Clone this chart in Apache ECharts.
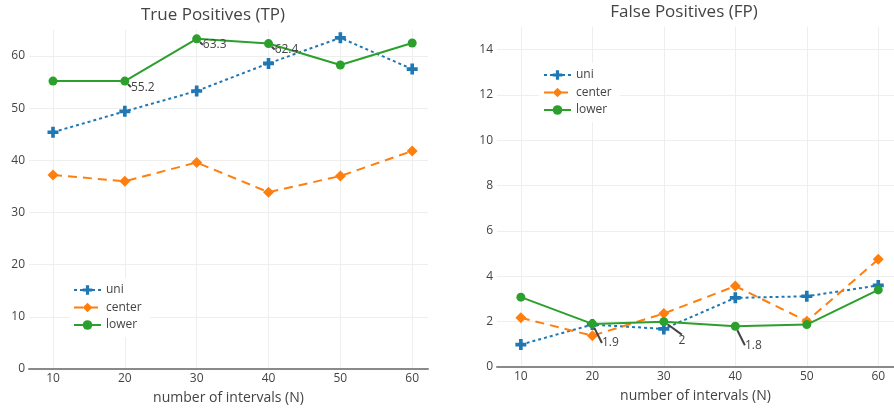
<!DOCTYPE html>
<html>
<head>
<meta charset="utf-8">
<script src="https://cdn.jsdelivr.net/npm/echarts@6/dist/echarts.min.js"></script>
<style>
html,body{margin:0;padding:0;background:#fff;}
#chart{width:894px;height:410px;}
</style>
</head>
<body>
<div id="chart"></div>
<script>
// ---- data ----
const xValues = [10, 20, 30, 40, 50, 60];
const xTicks = [10, 20, 30, 40, 50, 60];
const seriesNames = ['uni', 'center', 'lower'];

const tpUni = [45.4, 49.4, 53.3, 58.6, 63.5, 57.5];
const tpCenter = [37.2, 36.0, 39.6, 33.9, 37.0, 41.8];
const tpLower = [55.2, 55.2, 63.3, 62.4, 58.3, 62.5];

const fpUni = [0.99, 1.87, 1.68, 3.05, 3.12, 3.6];
const fpCenter = [2.17, 1.38, 2.36, 3.57, 2.02, 4.75];
const fpLower = [3.08, 1.9, 2.0, 1.8, 1.87, 3.4];

const annotatedIdx = [1, 2, 3];

const titles = ['True Positives (TP)', 'False Positives (FP)'];
const xAxisTitle = 'number of intervals (N)';

// ---- styles ----
const FONT = '"Open Sans", "Liberation Sans", sans-serif';
const TXT = '#444';
const colors = {uni: '#1f77b4', center: '#ff7f0e', lower: '#2ca02c'};
const crossPath = 'path://M-1,-3H1V-1H3V1H1V3H-1V1H-3V-1H-1Z';

function pts(vals, annotate) {
  return xValues.map((x, i) => {
    const d = {value: [x, vals[i]]};
    if (annotate && annotatedIdx.includes(i)) d.label = {show: true};
    return d;
  });
}

function makeSeries(gi, uni, center, lower, dx, dy) {
  return [
    {
      name: 'uni', type: 'line', xAxisIndex: gi, yAxisIndex: gi,
      data: pts(uni, false), symbol: crossPath, symbolSize: 11,
      itemStyle: {color: colors.uni},
      lineStyle: {color: colors.uni, width: 2, type: [3, 3]},
      z: 2
    },
    {
      name: 'center', type: 'line', xAxisIndex: gi, yAxisIndex: gi,
      data: pts(center, false), symbol: 'diamond', symbolSize: 11,
      itemStyle: {color: colors.center},
      lineStyle: {color: colors.center, width: 2, type: [9, 6]},
      z: 2
    },
    {
      name: 'lower', type: 'line', xAxisIndex: gi, yAxisIndex: gi,
      data: pts(lower, true), symbol: 'circle', symbolSize: 9,
      itemStyle: {color: colors.lower},
      lineStyle: {color: colors.lower, width: 2},
      label: {
        show: false, position: 'inside', align: 'center', verticalAlign: 'middle',
        formatter: p => String(p.value[1]),
        color: TXT, fontSize: 12, fontFamily: FONT
      },
      labelLayout: {dx: dx, dy: dy, hideOverlap: false},
      labelLine: {show: true, lineStyle: {color: '#444', width: 2}},
      z: 3
    }
  ];
}

function xAxis(gi) {
  return {
    type: 'value', gridIndex: gi, min: 6.66, max: 62.2,
    name: xAxisTitle, nameLocation: 'middle', nameGap: 22,
    nameTextStyle: {color: TXT, fontSize: 14, fontFamily: FONT},
    axisLine: {show: true, onZero: false, lineStyle: {color: '#8a8a8a', width: 2}},
    axisTick: {show: false, customValues: xTicks},
    axisLabel: {customValues: xTicks, color: TXT, fontSize: 12, fontFamily: FONT, margin: 4},
    splitLine: {show: true, lineStyle: {color: '#eeeeee', width: 1}}
  };
}

function yAxis(gi, max, interval) {
  return {
    type: 'value', gridIndex: gi, min: 0, max: max, interval: interval,
    axisLine: {show: false}, axisTick: {show: false},
    axisLabel: {color: TXT, fontSize: 12, fontFamily: FONT, margin: 4, showMaxLabel: false},
    splitLine: {show: true, showMaxLine: false, lineStyle: {color: '#eeeeee', width: 1}}
  };
}

function legend(left, top) {
  return {
    data: seriesNames, orient: 'vertical', left: left, top: top,
    backgroundColor: '#ffffff', padding: [6, 8, 6, 4], itemGap: 5.5,
    itemWidth: 27, itemHeight: 12,
    textStyle: {color: TXT, fontSize: 12, fontFamily: FONT},
    selectedMode: false
  };
}

const chart = echarts.init(document.getElementById('chart'), null, {renderer: 'canvas'});
chart.setOption({
  animation: false,
  backgroundColor: '#ffffff',
  textStyle: {fontFamily: FONT},
  title: [
    {text: titles[0], left: 208, top: 2, textAlign: 'center',
     textStyle: {color: TXT, fontSize: 17, fontWeight: 'normal', fontFamily: FONT}},
    {text: titles[1], left: 679, top: -1, textAlign: 'center',
     textStyle: {color: TXT, fontSize: 17, fontWeight: 'normal', fontFamily: FONT}}
  ],
  legend: [legend(69, 278), legend(539, 63)],
  grid: [
    {left: 29, top: 30, width: 399, height: 340},
    {left: 497, top: 27, width: 399, height: 340}
  ],
  xAxis: [xAxis(0), xAxis(1)],
  yAxis: [yAxis(0, 65, 10), yAxis(1, 15, 2)],
  series: [].concat(
    makeSeries(0, tpUni, tpCenter, tpLower, 18, 6),
    makeSeries(1, fpUni, fpCenter, fpLower, 18, 19)
  )
});
</script>
</body>
</html>
